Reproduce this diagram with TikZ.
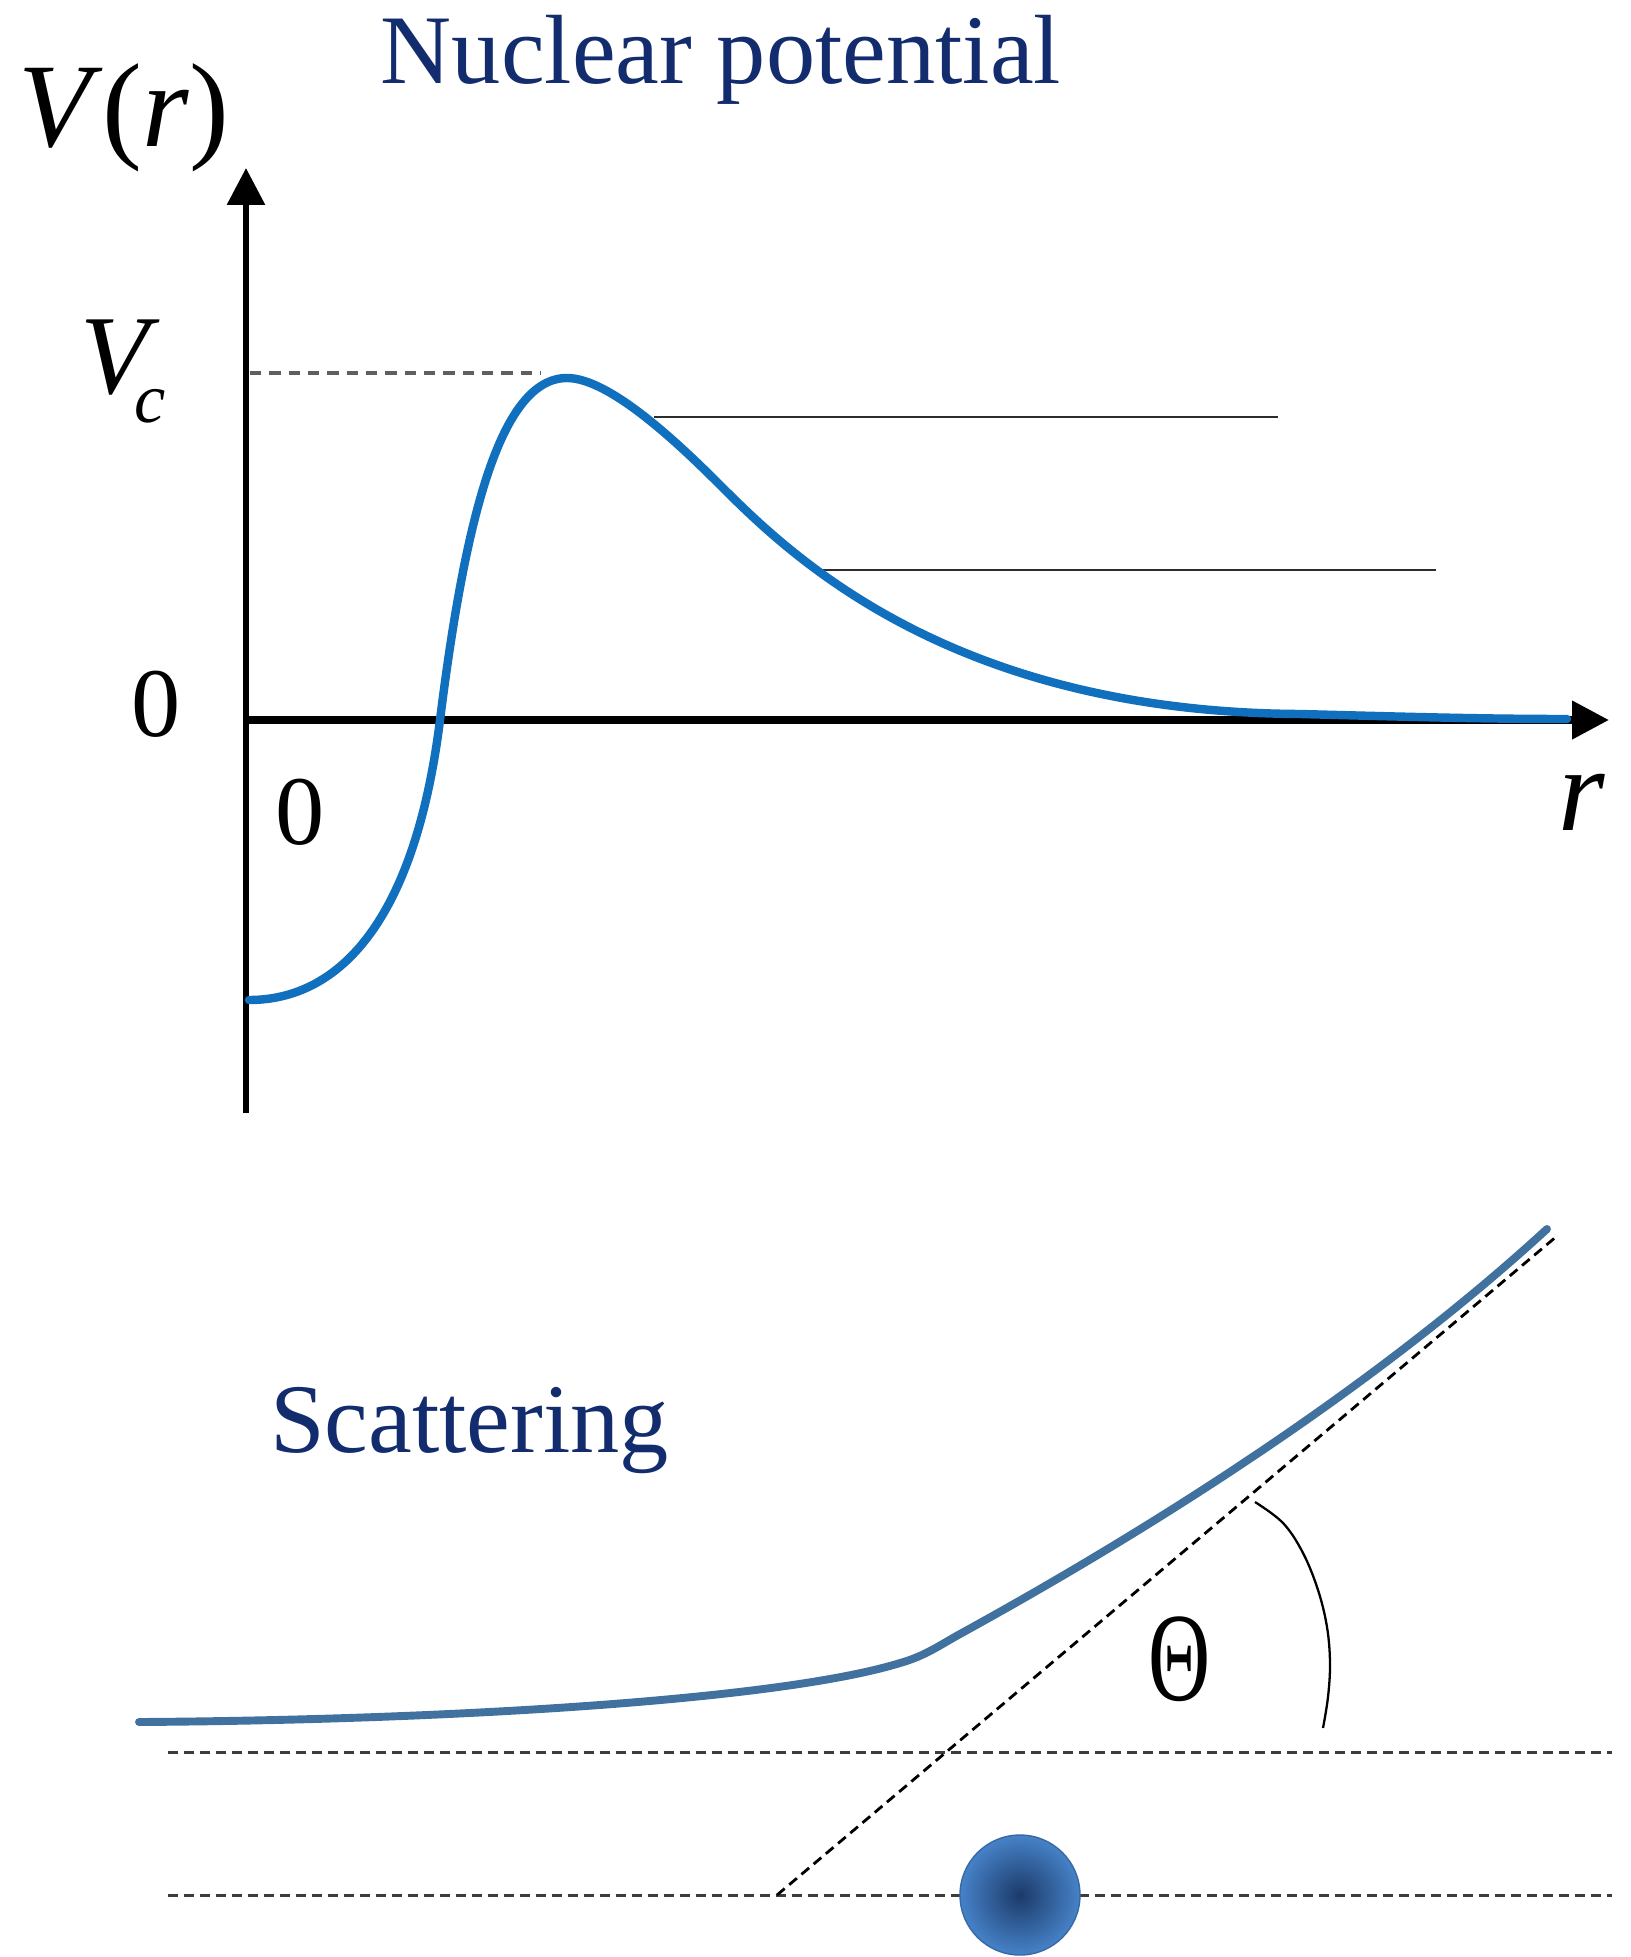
\documentclass[tikz,border=0pt]{standalone}
\usepackage{fontspec}
\setmainfont{Liberation Serif}
\usetikzlibrary{arrows.meta}
\definecolor{navy}{RGB}{18,44,110}
\definecolor{curveblue}{RGB}{16,112,190}
\definecolor{trajblue}{RGB}{65,113,158}
\definecolor{sphblue}{RGB}{70,130,200}
\definecolor{sphdark}{RGB}{28,58,105}
\definecolor{sphedge}{RGB}{55,105,165}
\definecolor{dashgray}{RGB}{60,60,60}
\definecolor{vcgray}{RGB}{95,95,95}
\definecolor{linegray}{RGB}{45,45,45}
\tikzset{
  lbl/.style={inner sep=0pt, outer sep=0pt},
  axisline/.style={line width=3.5pt, black},
  tip/.style={-{Triangle[length=21pt,width=21pt]}},
  guide/.style={line width=1.4pt, linegray},
  dashguide/.style={line width=1.7pt, dashgray, dash pattern=on 5.7pt off 3.4pt},
  pot/.style={line width=4.8pt, curveblue, line cap=round},
  traj/.style={line width=4.5pt, trajblue, line cap=round},
}
\begin{document}
\begin{tikzpicture}[x=0.02cm,y=-0.02cm]
\useasboundingbox (0,0) rectangle (1631,1957);
\fill[white] (0,0) rectangle (1631,1957);

% ---------- top: nuclear potential ----------
\node[lbl, anchor=base, text=navy, font=\fontsize{56}{56}\selectfont] (title) at (721,84) {Nuclear potential};
\node[lbl, anchor=base west, font=\fontsize{68}{68}\selectfont] (vr) at (18,147) {\textit{V}(\textit{r})};
\node[lbl, anchor=base west, font=\fontsize{64}{64}\selectfont\itshape] (vc) at (80,393)
  {V\hspace{-8pt}\raisebox{-17pt}{\fontsize{40}{40}\selectfont c}};
\node[lbl, anchor=base west, font=\fontsize{56}{56}\selectfont] (zeroy) at (131,736) {0};
\node[lbl, anchor=base west, font=\fontsize{56}{56}\selectfont] (zerox) at (275,844) {0};
\node[lbl, anchor=base west, font=\fontsize{68}{68}\selectfont\itshape] (rlab) at (1558,830) {r};

\coordinate (ybot) at (246,1113);
\coordinate (ytop) at (246,168);
\coordinate (xleft) at (243,720);
\coordinate (xright) at (1609,720);
\draw[axisline, tip] (ybot) -- (ytop);
\draw[axisline, line width=4.3pt, tip] (xleft) -- (xright);

\coordinate (vcl) at (250,373);
\coordinate (vcr) at (540,373);
\draw[line width=1.8pt, vcgray, dash pattern=on 6.5pt off 4.5pt] (vcl) -- (vcr);

\coordinate (e1a) at (654,417);
\coordinate (e1b) at (1278,417);
\coordinate (e2a) at (812,570);
\coordinate (e2b) at (1436,570);
\draw[guide] (e1a) -- (e1b);
\draw[guide] (e2a) -- (e2b);

\coordinate (p0) at (249,1000);
\coordinate (p1) at (440,720);
\coordinate (p2) at (567,378);
\coordinate (p3) at (720,485);
\coordinate (p4) at (1300,714);
\coordinate (p5) at (1567,719);
\draw[pot] (p0) .. controls (340,1000) and (415,920) .. (p1)
  .. controls (465,520) and (500,378) .. (p2)
  .. controls (610,378) and (680,445) .. (p3)
  .. controls (790,555) and (950,712) .. (p4)
  .. controls (1400,716.6) and (1480,719) .. (p5);

% ---------- bottom: scattering ----------
\node[lbl, anchor=base west, text=navy, font=\fontsize{56}{56}\selectfont] (scat) at (270,1452) {Scattering};

\coordinate (h1a) at (168,1752);
\coordinate (h1b) at (1612,1752);
\coordinate (h2a) at (168,1895);
\coordinate (h2b) at (1612,1895);
\draw[dashguide] (h1a) -- (h1b);
\draw[dashguide] (h2a) -- (h2b);

\coordinate (asA) at (777,1895);
\coordinate (asB) at (1557,1236);
\draw[line width=1.6pt, black, dash pattern=on 5.7pt off 3.4pt] (asA) -- (asB);

\draw[line width=1.3pt, black] plot[smooth, tension=0.6] coordinates {
 (1255,1502) (1283,1523) (1303,1553) (1318,1590) (1327,1627) (1330,1663) (1328,1697) (1323,1728)};

\node[lbl, anchor=base, font=\fontsize{72}{72}\selectfont] (theta) at (1180,1700) {\scalebox{0.68}[1]{Θ}};

\coordinate (t0) at (139,1722);
\coordinate (t1) at (900,1663);
\coordinate (t2) at (960,1634);
\coordinate (t3) at (1547,1229);
\draw[traj] (t0) .. controls (450,1720) and (780,1700) .. (t1)
  .. controls (925,1656) and (940,1645) .. (t2)
  .. controls (1100,1557) and (1350,1410) .. (t3);

\coordinate (nuc) at (1020,1895);
\shade[inner color=sphdark, outer color=sphblue] (nuc) circle[radius=60];
\draw[sphedge, line width=0.8pt] (nuc) circle[radius=60];
\end{tikzpicture}
\end{document}
